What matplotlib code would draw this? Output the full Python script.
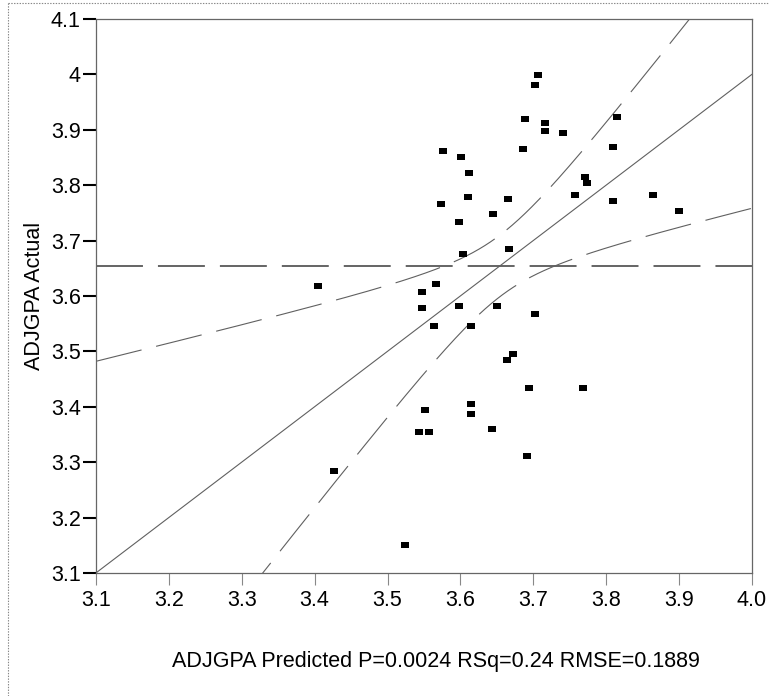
import numpy as np
import matplotlib
matplotlib.use("Agg")
import matplotlib.pyplot as plt
from matplotlib.lines import Line2D

# Actual by Predicted data (ADJGPA)
predicted = [3.4045, 3.4261, 3.5243, 3.5468, 3.5468, 3.5632, 3.5660, 3.5435, 3.5517, 3.5572,
             3.5764, 3.5737, 3.6011, 3.5984, 3.6038, 3.5984, 3.6121, 3.6099, 3.6148, 3.6148,
             3.6148, 3.6450, 3.6499, 3.6428, 3.6648, 3.6669, 3.6642, 3.6724, 3.6861, 3.6889,
             3.7026, 3.7059, 3.7163, 3.7163, 3.7410, 3.7026, 3.6944, 3.6912, 3.7575, 3.7708,
             3.7735, 3.7685, 3.8092, 3.8147, 3.8092, 3.8637, 3.8997]
actual = [3.6178, 3.2833, 3.1498, 3.6069, 3.5786, 3.5461, 3.6214, 3.3549, 3.3946, 3.3549,
          3.8624, 3.7657, 3.8516, 3.7332, 3.6755, 3.5822, 3.8227, 3.7789, 3.5461, 3.4054,
          3.3874, 3.7473, 3.5819, 3.3591, 3.7758, 3.6856, 3.4848, 3.4956, 3.8660, 3.9201,
          3.9809, 3.9990, 3.9129, 3.8979, 3.8949, 3.5673, 3.4348, 3.3116, 3.7830, 3.8155,
          3.8047, 3.4348, 3.8696, 3.9237, 3.7722, 3.7830, 3.7542]

x_ticks = [3.1, 3.2, 3.3, 3.4, 3.5, 3.6, 3.7, 3.8, 3.9, 4.0]
x_tick_labels = ["3.1", "3.2", "3.3", "3.4", "3.5", "3.6", "3.7", "3.8", "3.9", "4.0"]
y_ticks = [3.1, 3.2, 3.3, 3.4, 3.5, 3.6, 3.7, 3.8, 3.9, 4.0, 4.1]
y_tick_labels = ["3.1", "3.2", "3.3", "3.4", "3.5", "3.6", "3.7", "3.8", "3.9", "4", "4.1"]

x_label = "ADJGPA Predicted P=0.0024 RSq=0.24 RMSE=0.1889"
y_label = "ADJGPA Actual"

# Fit statistics for the confidence curves
rmse = 0.1889
model_terms = 2
t_crit = 2.0154   # t(0.975, 44)
f_crit = 3.2093   # F(0.95; 2, 44)

plt.rcParams["font.family"] = ["Liberation Sans", "DejaVu Sans"]
plt.rcParams["lines.scale_dashes"] = False

W, H = 769, 696
fig = plt.figure(figsize=(W / 100, H / 100), dpi=100)
ax = fig.add_axes([96 / W, 1 - 573 / H, (752 - 96) / W, (573 - 19) / H])

pred = np.asarray(predicted)
act = np.asarray(actual)
n = len(pred)
xbar = pred.mean()
ybar = act.mean()
sxx = np.sum((pred - xbar) ** 2)

xs = np.linspace(3.1, 4.0, 600)
fit = ybar + (xs - xbar)
half = np.sqrt(t_crit ** 2 * rmse ** 2 / n
               + model_terms * f_crit * rmse ** 2 * (xs - xbar) ** 2 / sxx)

dash = (33.8, 10.8)
ax.axhline(ybar, color="#3a3a3a", lw=1.1, dashes=dash, zorder=2)
ax.plot(xs, fit, color="#606060", lw=0.8, zorder=2)
ax.plot(xs, fit + half, color="#606060", lw=0.8, dashes=dash, zorder=2)
ax.plot(xs, fit - half, color="#606060", lw=0.8, dashes=dash, zorder=2)

rect = [(-4, -3), (4, -3), (4, 3), (-4, 3), (-4, -3)]
ax.plot(pred, act, linestyle="none", marker=rect, markersize=6.2,
        color="black", markeredgewidth=0, zorder=3)

fs = 15.5
ax.set_xlim(3.1, 4.0)
ax.set_ylim(3.1, 4.1)
ax.set_xticks(x_ticks)
ax.set_xticklabels(x_tick_labels)
ax.set_yticks(y_ticks)
ax.set_yticklabels(y_tick_labels)
ax.tick_params(axis="y", direction="out", length=9.4, width=1.5, color="black",
               pad=1.5, labelsize=fs)
ax.tick_params(axis="x", direction="out", length=8.6, width=0.8, color="#888888",
               pad=4, labelsize=fs)
for s in ax.spines.values():
    s.set_color("#666666")
    s.set_linewidth(0.9)

fig.text(35 / W, 1 - 296 / H, y_label, rotation=90, ha="center", va="center", fontsize=fs)
fig.text(436 / W, 1 - 661 / H, x_label, ha="center", va="center", fontsize=fs)

# dotted outer frame (left and top edges)
fig.add_artist(Line2D([8 / W, 8 / W], [0, 1 - 3 / H], transform=fig.transFigure,
                      color="#888888", lw=0.8, linestyle=(0, (1, 1))))
fig.add_artist(Line2D([8 / W, 1], [1 - 3 / H, 1 - 3 / H], transform=fig.transFigure,
                      color="#888888", lw=0.8, linestyle=(0, (1, 1))))

fig.savefig("out.png", dpi=100)
